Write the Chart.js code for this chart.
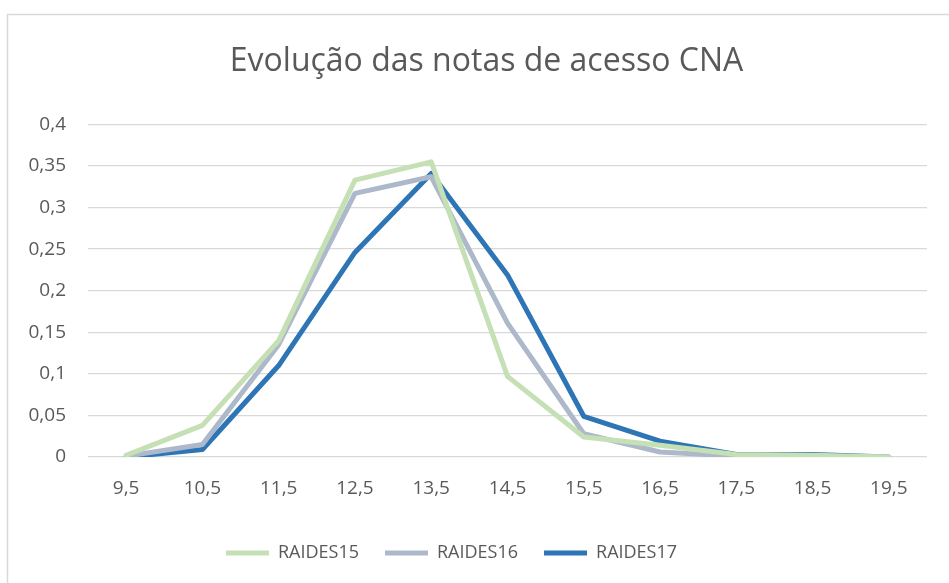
<!DOCTYPE html>
<html>
<head>
<meta charset="utf-8">
<script src="https://cdn.jsdelivr.net/npm/chart.js@4.4.1/dist/chart.umd.min.js"></script>
<style>
    html, body { margin: 0; padding: 0; background: #fff; }
    #wrap { width: 949px; height: 583px; position: relative; }
</style>
</head>
<body>
<div id="wrap"><canvas id="myChart"></canvas></div>
<script>
const notas = ['9,5', '10,5', '11,5', '12,5', '13,5', '14,5', '15,5', '16,5', '17,5', '18,5', '19,5'];
const raides15 = [0.002, 0.038, 0.140, 0.333, 0.355, 0.097, 0.024, 0.014, 0.003, 0.002, 0.000];
const raides16 = [0.001, 0.015, 0.135, 0.317, 0.337, 0.161, 0.028, 0.006, 0.001, 0.001, 0.000];
const raides17 = [0.000, 0.009, 0.110, 0.246, 0.341, 0.219, 0.049, 0.019, 0.003, 0.003, 0.000];

const textColor = '#595959';
const gridColor = '#d9d9d9';

function serie(label, data, color) {
    return {
        label: label,
        data: data,
        borderColor: color,
        backgroundColor: color,
        borderWidth: 5,
        borderJoinStyle: 'round',
        borderCapStyle: 'round',
        pointRadius: 0,
        tension: 0
    };
}

// moldura cinzenta (cortada à direita e em baixo) + pequenos desvios do título/legenda
const moldura = {
    id: 'moldura',
    afterLayout(chart) {
        chart.titleBlock.left += 23;
        chart.titleBlock.right += 23;
        chart.legend.left -= 12;
        chart.legend.right -= 12;
    },
    beforeDraw(chart) {
        const ctx = chart.ctx;
        ctx.save();
        ctx.strokeStyle = gridColor;
        ctx.lineWidth = 1.5;
        ctx.strokeRect(7.5, 14.5, 1200, 1200);
        ctx.restore();
    }
};

const ctx = document.getElementById('myChart').getContext('2d');
new Chart(ctx, {
    type: 'line',
    data: {
        labels: notas,
        datasets: [
            serie('RAIDES15', raides15, '#c5e0b4'),
            serie('RAIDES16', raides16, '#adb9ca'),
            serie('RAIDES17', raides17, '#2e75b6')
        ]
    },
    options: {
        responsive: true,
        maintainAspectRatio: false,
        animation: false,
        layout: { padding: { left: 0, right: 22, top: 0, bottom: 11 } },
        plugins: {
            title: {
                display: true,
                text: 'Evolução das notas de acesso CNA',
                color: textColor,
                font: { family: 'Open Sans', size: 32, weight: 'normal' },
                padding: { top: 43, bottom: 43 }
            },
            legend: {
                position: 'bottom',
                labels: {
                    color: textColor,
                    font: { family: 'Open Sans', size: 18 },
                    usePointStyle: true,
                    pointStyle: 'line',
                    pointStyleWidth: 43,
                    boxHeight: 5,
                    padding: 26
                }
            },
            tooltip: { enabled: false }
        },
        scales: {
            x: {
                offset: true,
                afterFit(scale) { scale.height = 61; },
                grid: { display: false, drawTicks: false },
                border: { display: false },
                ticks: {
                    color: textColor,
                    font: { family: 'Open Sans', size: 19 },
                    padding: 20,
                    maxRotation: 0
                }
            },
            y: {
                min: 0,
                max: 0.4,
                afterFit(scale) { scale.width = 88; },
                grid: { color: gridColor, lineWidth: 1.3, drawTicks: false },
                border: { display: false },
                ticks: {
                    stepSize: 0.05,
                    color: textColor,
                    font: { family: 'Open Sans', size: 19 },
                    padding: 22,
                    callback: (v) => String(Math.round(v * 100) / 100).replace('.', ',')
                }
            }
        }
    },
    plugins: [moldura]
});
</script>
</body>
</html>
